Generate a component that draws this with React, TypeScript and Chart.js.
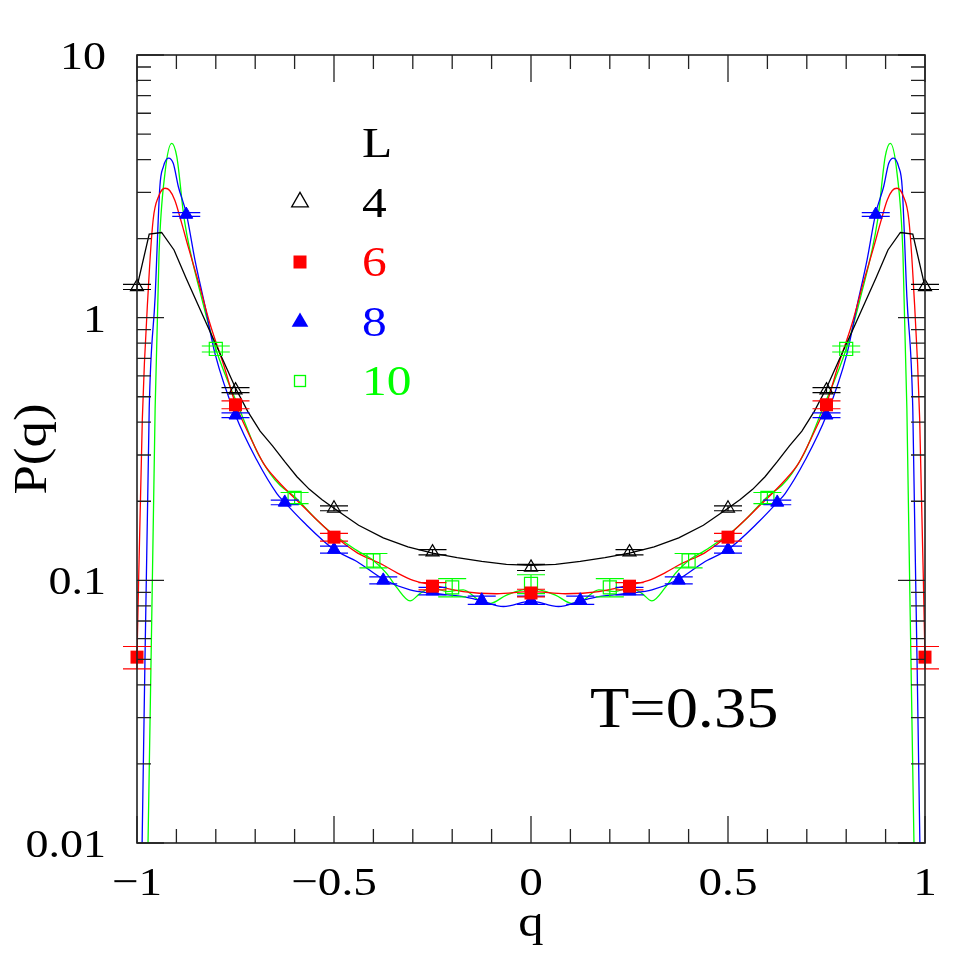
import React, { useEffect, useRef } from 'react';
import { Chart, registerables } from 'chart.js';

Chart.register(...registerables);

// ---------- data ----------
// L = 4 curve (black)
const qLine4 = [-1, -0.969, -0.9375, -0.906, -0.875, -0.844, -0.8125, -0.781, -0.75, -0.719, -0.6875, -0.656, -0.625, -0.594, -0.5625, -0.531, -0.5, -0.4375, -0.375, -0.3125, -0.25, -0.1875, -0.125, -0.0625, 0, 0.0625, 0.125, 0.1875, 0.25, 0.3125, 0.375, 0.4375, 0.5, 0.531, 0.5625, 0.594, 0.625, 0.656, 0.6875, 0.719, 0.75, 0.781, 0.8125, 0.844, 0.875, 0.906, 0.9375, 0.969, 1];
const pLine4 = [1.31, 2.08, 2.11, 1.81, 1.41, 1.11, 0.87, 0.685, 0.54, 0.44, 0.37, 0.325, 0.283, 0.248, 0.222, 0.203, 0.188, 0.162, 0.145, 0.134, 0.127, 0.122, 0.118, 0.115, 0.114, 0.115, 0.118, 0.122, 0.127, 0.134, 0.145, 0.162, 0.188, 0.203, 0.222, 0.248, 0.283, 0.325, 0.37, 0.44, 0.54, 0.685, 0.87, 1.11, 1.41, 1.81, 2.11, 2.08, 1.31];

// L = 6 curve (red)
const qLine6 = [-1, -0.9865, -0.971, -0.959, -0.945, -0.929, -0.917, -0.904, -0.887, -0.87, -0.843, -0.815, -0.78, -0.75, -0.713, -0.679, -0.645, -0.578, -0.5, -0.44, -0.383, -0.341, -0.299, -0.25, -0.172, -0.087, 0, 0.087, 0.172, 0.25, 0.299, 0.341, 0.383, 0.44, 0.5, 0.578, 0.645, 0.679, 0.713, 0.75, 0.78, 0.815, 0.843, 0.87, 0.887, 0.904, 0.917, 0.929, 0.945, 0.959, 0.971, 0.9865, 1];
const pLine6 = [0.051, 0.41, 1.31, 2.36, 2.9, 3.11, 3.05, 2.8, 2.3, 1.86, 1.35, 0.95, 0.66, 0.47, 0.352, 0.279, 0.241, 0.191, 0.148, 0.127, 0.116, 0.107, 0.1, 0.096, 0.0906, 0.0889, 0.0906, 0.0889, 0.0906, 0.096, 0.1, 0.107, 0.116, 0.127, 0.148, 0.191, 0.241, 0.279, 0.352, 0.47, 0.66, 0.95, 1.35, 1.86, 2.3, 2.8, 3.05, 3.11, 2.9, 2.36, 1.31, 0.41, 0.051];

// L = 8 curve (blue)
const qLine8 = [-1, -0.987, -0.969, -0.954, -0.942, -0.933, -0.92, -0.908, -0.895, -0.875, -0.853, -0.827, -0.802, -0.75, -0.696, -0.645, -0.625, -0.578, -0.5, -0.442, -0.375, -0.307, -0.25, -0.172, -0.125, -0.07, 0, 0.07, 0.125, 0.172, 0.25, 0.307, 0.375, 0.442, 0.5, 0.578, 0.625, 0.645, 0.696, 0.75, 0.802, 0.827, 0.853, 0.875, 0.895, 0.908, 0.92, 0.933, 0.942, 0.954, 0.969, 0.987, 1];
const pLine8 = [0.001, 0.01, 0.45, 1.2, 3.15, 3.76, 4.05, 3.87, 3.15, 2.5, 1.66, 1.1, 0.73, 0.425, 0.287, 0.214, 0.198, 0.167, 0.131, 0.118, 0.101, 0.092, 0.0893, 0.0867, 0.0835, 0.0795, 0.0833, 0.0795, 0.0835, 0.0867, 0.0893, 0.092, 0.101, 0.118, 0.131, 0.167, 0.198, 0.214, 0.287, 0.425, 0.73, 1.1, 1.66, 2.5, 3.15, 3.87, 4.05, 3.76, 3.15, 1.2, 0.45, 0.01, 0.001];

// L = 10 curve (green)
const qLine10 = [-1, -0.972, -0.954, -0.944, -0.929, -0.912, -0.899, -0.88, -0.836, -0.8, -0.739, -0.696, -0.662, -0.637, -0.6, -0.544, -0.51, -0.442, -0.4, -0.366, -0.341, -0.307, -0.282, -0.25, -0.214, -0.172, -0.129, -0.104, -0.062, 0, 0.062, 0.104, 0.129, 0.172, 0.214, 0.25, 0.282, 0.307, 0.341, 0.366, 0.4, 0.442, 0.51, 0.544, 0.6, 0.637, 0.662, 0.696, 0.739, 0.8, 0.836, 0.88, 0.899, 0.912, 0.929, 0.944, 0.954, 0.972, 1];
const pLine10 = [0.0005, 0.01, 0.45, 1.76, 3.55, 4.61, 4.1, 2.36, 1.19, 0.76, 0.445, 0.31, 0.255, 0.23, 0.208, 0.17, 0.153, 0.13, 0.119, 0.106, 0.094, 0.0835, 0.089, 0.094, 0.0906, 0.092, 0.0833, 0.0817, 0.0879, 0.093, 0.0879, 0.0817, 0.0833, 0.092, 0.0906, 0.094, 0.089, 0.0835, 0.094, 0.106, 0.119, 0.13, 0.153, 0.17, 0.208, 0.23, 0.255, 0.31, 0.445, 0.76, 1.19, 2.36, 4.1, 4.61, 3.55, 1.76, 0.45, 0.01, 0.0005];

// Markers with error bars
const qPts4 = [-1, -0.75, -0.5, -0.25, 0, 0.25, 0.5, 0.75, 1];
const pPts4 = [1.31, 0.53, 0.188, 0.128, 0.112, 0.128, 0.188, 0.53, 1.31];
const ePts4 = [0.03, 0.012, 0.004, 0.003, 0.003, 0.003, 0.004, 0.012, 0.03];

const qPts6 = [-1, -0.75, -0.5, -0.25, 0, 0.25, 0.5, 0.75, 1];
const pPts6 = [0.051, 0.466, 0.146, 0.095, 0.0895, 0.095, 0.146, 0.466, 0.051];
const ePts6 = [0.005, 0.016, 0.005, 0.003, 0.003, 0.003, 0.005, 0.016, 0.005];

const qPts8 = [-0.875, -0.75, -0.625, -0.5, -0.375, -0.25, -0.125, 0, 0.125, 0.25, 0.375, 0.5, 0.625, 0.75, 0.875];
const pPts8 = [2.47, 0.425, 0.198, 0.131, 0.1, 0.091, 0.084, 0.084, 0.084, 0.091, 0.1, 0.131, 0.198, 0.425, 2.47];
const ePts8 = [0.04, 0.009, 0.004, 0.004, 0.003, 0.003, 0.003, 0.003, 0.003, 0.003, 0.003, 0.004, 0.004, 0.009, 0.04];

const qPts10 = [-0.8, -0.6, -0.4, -0.2, 0, 0.2, 0.4, 0.6, 0.8];
const pPts10 = [0.76, 0.206, 0.119, 0.094, 0.097, 0.094, 0.119, 0.206, 0.76];
const ePts10 = [0.02, 0.01, 0.0075, 0.0075, 0.008, 0.0075, 0.0075, 0.01, 0.02];

// Axes
const xMajorTicks = [-1, -0.5, 0, 0.5, 1];
const xTickLabels = ['\u22121', '\u22120.5', '0', '0.5', '1'];
const xMinorTicks = [-0.9, -0.8, -0.7, -0.6, -0.4, -0.3, -0.2, -0.1, 0.1, 0.2, 0.3, 0.4, 0.6, 0.7, 0.8, 0.9];
const yMajorTicks = [0.01, 0.1, 1, 10];
const yTickLabels = ['0.01', '0.1', '1', '10'];
const yMinorTicks = [0.02, 0.03, 0.04, 0.05, 0.06, 0.07, 0.08, 0.09, 0.2, 0.3, 0.4, 0.5, 0.6, 0.7, 0.8, 0.9, 2, 3, 4, 5, 6, 7, 8, 9];

const legendTitle = 'L';
const legendLabels = ['4', '6', '8', '10'];
const legendColors = ['#000000', '#ff0000', '#0000ff', '#00ff00'];
const annotation = 'T=0.35';

const FONT = '"Liberation Serif", "Times New Roman", serif';
const SX = 1.15;

function pts(q: number[], p: number[]) {
  return q.map((v, i) => ({ x: v, y: p[i] }));
}

function drawText(ctx: CanvasRenderingContext2D, text: string, x: number, y: number, size: number, color: string, align: CanvasTextAlign, rot = 0) {
  ctx.save();
  ctx.translate(x, y);
  if (rot) ctx.rotate(rot);
  ctx.scale(SX, 1);
  ctx.font = `${size}px ${FONT}`;
  ctx.fillStyle = color;
  ctx.textAlign = align;
  ctx.textBaseline = 'alphabetic';
  ctx.fillText(text, 0, 0);
  ctx.restore();
}

const errorPlugin = {
  id: 'errorBars',
  beforeDatasetDraw(chart: any, args: any) {
    const ds = chart.data.datasets[args.index];
    if (!ds.errs) return;
    const ctx = chart.ctx;
    const xs = chart.scales.x;
    const ys = chart.scales.y;
    ctx.save();
    ctx.strokeStyle = ds.errColor;
    ctx.lineWidth = 1.2;
    ds.data.forEach((d: any, i: number) => {
      const e = ds.errs[i];
      const x = xs.getPixelForValue(d.x);
      const yt = ys.getPixelForValue(d.y + e);
      const yb = ys.getPixelForValue(d.y - e);
      ctx.beginPath();
      ctx.moveTo(x, yt);
      ctx.lineTo(x, yb);
      ctx.moveTo(x - 14, yt);
      ctx.lineTo(x + 14, yt);
      ctx.moveTo(x - 14, yb);
      ctx.lineTo(x + 14, yb);
      ctx.stroke();
    });
    ctx.restore();
  },
};

const framePlugin = {
  id: 'frameAxes',
  afterDraw(chart: any) {
    const ctx: CanvasRenderingContext2D = chart.ctx;
    const { left, right, top, bottom } = chart.chartArea;
    const xs = chart.scales.x;
    const ys = chart.scales.y;
    ctx.save();
    ctx.strokeStyle = '#222';
    ctx.lineWidth = 1.6;
    ctx.strokeRect(left, top, right - left, bottom - top);
    ctx.lineWidth = 1.3;
    ctx.beginPath();
    const tick = (vals: number[], len: number) => {
      vals.forEach((v) => {
        const x = xs.getPixelForValue(v);
        ctx.moveTo(x, bottom);
        ctx.lineTo(x, bottom - len);
        ctx.moveTo(x, top);
        ctx.lineTo(x, top + len);
      });
    };
    tick(xMajorTicks, 27);
    tick(xMinorTicks, 14);
    const ytick = (vals: number[], len: number) => {
      vals.forEach((v) => {
        const y = ys.getPixelForValue(v);
        ctx.moveTo(left, y);
        ctx.lineTo(left + len, y);
        ctx.moveTo(right, y);
        ctx.lineTo(right - len, y);
      });
    };
    ytick(yMajorTicks, 27);
    ytick(yMinorTicks, 14);
    ctx.stroke();
    ctx.restore();

    xMajorTicks.forEach((v, i) => {
      drawText(ctx, xTickLabels[i], xs.getPixelForValue(v), bottom + 52, 41, '#000', 'center');
    });
    yMajorTicks.forEach((v, i) => {
      drawText(ctx, yTickLabels[i], left - 31, ys.getPixelForValue(v) + 14, 40, '#000', 'right');
    });
    drawText(ctx, 'q', (left + right) / 2, bottom + 93, 44, '#000', 'center');
    drawText(ctx, 'P(q)', 46, (top + bottom) / 2, 46, '#000', 'center', -Math.PI / 2);

    // legend
    drawText(ctx, legendTitle, 362 / SX * SX, 157, 43, '#000', 'left');
    const rows = [217, 276, 336, 395];
    legendLabels.forEach((t, i) => {
      drawText(ctx, t, 362, rows[i], 43, legendColors[i], 'left');
    });
    const sx = 300;
    ctx.save();
    ctx.lineWidth = 1.3;
    // open triangle
    let r = 9.6;
    let cy = 202;
    ctx.beginPath();
    ctx.moveTo(sx, cy - r);
    ctx.lineTo(sx + 0.866 * r, cy + 0.5 * r);
    ctx.lineTo(sx - 0.866 * r, cy + 0.5 * r);
    ctx.closePath();
    ctx.strokeStyle = '#000';
    ctx.stroke();
    // filled square
    ctx.fillStyle = '#ff0000';
    ctx.fillRect(sx - 6.5, 262 - 6.5, 13, 13);
    // filled triangle
    cy = 322;
    ctx.beginPath();
    ctx.moveTo(sx, cy - r);
    ctx.lineTo(sx + 0.866 * r, cy + 0.5 * r);
    ctx.lineTo(sx - 0.866 * r, cy + 0.5 * r);
    ctx.closePath();
    ctx.fillStyle = '#0000ff';
    ctx.fill();
    // open square
    ctx.strokeStyle = '#00ff00';
    ctx.strokeRect(sx - 5.5, 381 - 5.5, 11, 11);
    ctx.restore();

    drawText(ctx, annotation, 590, 727, 56, '#000', 'left');
  },
};

export default function App() {
  const ref = useRef<HTMLCanvasElement | null>(null);
  useEffect(() => {
    if (!ref.current) return;
    const lineDs = (q: number[], p: number[], color: string, tension: number) => ({
      data: pts(q, p),
      showLine: true,
      borderColor: color,
      borderWidth: 1.3,
      pointRadius: 0,
      tension,
      cubicInterpolationMode: tension > 0 ? 'monotone' : 'default',
      order: 10,
    });
    const chart = new Chart(ref.current, {
      type: 'scatter',
      data: {
        datasets: [
          {
            data: pts(qPts4, pPts4), errs: ePts4, errColor: '#000000',
            pointStyle: 'triangle', pointRadius: 7.5, borderColor: '#000000', backgroundColor: 'rgba(0,0,0,0)', borderWidth: 1.2, showLine: false, clip: false, order: 0,
          } as any,
          {
            data: pts(qPts6, pPts6), errs: ePts6, errColor: '#ff0000',
            pointStyle: 'rect', pointRadius: 9.2, borderColor: '#ff0000', backgroundColor: '#ff0000', borderWidth: 0, showLine: false, clip: false, order: 1,
          } as any,
          {
            data: pts(qPts8, pPts8), errs: ePts8, errColor: '#0000ff',
            pointStyle: 'triangle', pointRadius: 7.5, borderColor: '#0000ff', backgroundColor: '#0000ff', borderWidth: 1, showLine: false, clip: false, order: 2,
          } as any,
          {
            data: pts(qPts10, pPts10), errs: ePts10, errColor: '#00ff00',
            pointStyle: 'rect', pointRadius: 9.2, borderColor: '#00ff00', backgroundColor: 'rgba(0,0,0,0)', borderWidth: 1.2, showLine: false, clip: false, order: 3,
          } as any,
          lineDs(qLine4, pLine4, '#000000', 0) as any,
          lineDs(qLine6, pLine6, '#ff0000', 0.4) as any,
          lineDs(qLine8, pLine8, '#0000ff', 0.4) as any,
          lineDs(qLine10, pLine10, '#00ff00', 0.4) as any,
        ],
      },
      options: {
        responsive: false,
        animation: false,
        events: [],
        layout: { padding: { left: 137, top: 55, right: 52, bottom: 134 } },
        plugins: { legend: { display: false }, tooltip: { enabled: false } },
        scales: {
          x: { type: 'linear', min: -1, max: 1, display: false },
          y: { type: 'logarithmic', min: 0.01, max: 10, display: false },
        },
      },
      plugins: [errorPlugin, framePlugin],
    });
    return () => chart.destroy();
  }, []);
  return (
    <div style={{ position: 'fixed', left: 0, top: 0, width: 977, height: 977, background: '#fff' }}>
      <canvas ref={ref} width={977} height={977} style={{ display: 'block' }} />
    </div>
  );
}
